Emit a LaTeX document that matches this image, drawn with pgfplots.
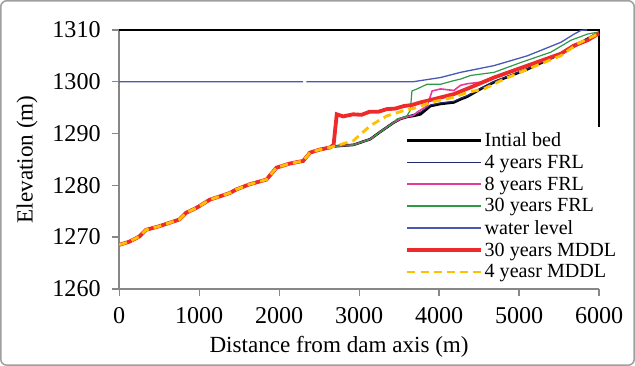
\documentclass[border=0pt]{standalone}
\usepackage{pgfplots}
\pgfplotsset{compat=1.18}
\usepackage{fontspec}
\setmainfont{Liberation Serif}
\usetikzlibrary{calc}
\definecolor{navyc}{HTML}{1F2A6B}
\definecolor{pinkc}{HTML}{E8389A}
\definecolor{greenc}{HTML}{2E9A46}
\definecolor{waterc}{HTML}{4A58B5}
\definecolor{redc}{HTML}{EE2A2A}
\definecolor{orangec}{HTML}{FFC000}
\definecolor{axgray}{HTML}{878787}
\begin{document}
\begin{tikzpicture}
\begin{axis}[name=ax, scale only axis, width=478bp, height=258bp,
  xmin=0, xmax=6000, ymin=1260, ymax=1310,
  xtick={0,1000,...,6000}, ytick={1260,1270,...,1310},
  axis lines*=left, clip=false,
  axis line style={axgray, line width=1.6bp},
  tick style={axgray, line width=1.3bp},
  tick align=outside, major tick length=7bp,
  /pgf/number format/assume math mode=true,
  /pgf/number format/1000 sep={},
  tick label style={font=\fontsize{24bp}{26bp}\selectfont},
  yticklabel style={xshift=-8bp},
  xticklabel style={yshift=-8bp},
  xlabel={Distance from dam axis (m)}, ylabel={Elevation (m)},
  label style={font=\fontsize{23bp}{25bp}\selectfont},
  xlabel style={xshift=-20bp, yshift=-6bp},
  ylabel style={yshift=8bp},
  legend image code/.code={\draw[#1] (0bp,0bp) -- (73bp,0bp);},
  legend style={at={(0.59,0.62)}, anchor=north west, draw=none, fill=none,
    font=\fontsize{20bp}{22bp}\selectfont, row sep=3bp},
  legend cell align=left,
]
\addplot[black, line width=2bp, forget plot] coordinates {(0,1310) (6000,1310) (6000,1291.2)};
% Initial bed
\addplot[black, line width=2.6bp] coordinates {
(0,1268.5) (125,1269.1) (251,1270.1) (335,1271.4) (502,1272.1) (753,1273.4) (837,1274.7) (961,1275.6) (1130,1277.2) (1381,1278.5) (1465,1279.2) (1632,1280.2) (1841,1281.1) (1966,1283.4) (2134,1284.2) (2300,1284.7) (2385,1286.3) (2510,1286.9) (2636,1287.3)
(2677,1287.5) (2928,1287.8) (3138,1288.9) (3263,1290.3) (3431,1292.1) (3514,1292.8) (3598,1293.2) (3682,1293.4) (3766,1293.7) (3891,1295.3) (4017,1295.7) (4184,1296.0) (4268,1296.6) (4351,1297.1) (4519,1298.6) (4686,1299.9) (4937,1301.4) (5104,1302.4) (5313,1303.9) (5522,1305.4) (5731,1307.2) (5941,1309.0) (6000,1309.2)};
\addlegendentry{Intial bed}
% 4 years FRL
\addplot[navyc, line width=1.2bp] coordinates {
(0,1268.5) (125,1269.1) (251,1270.1) (335,1271.4) (502,1272.1) (753,1273.4) (837,1274.7) (961,1275.6) (1130,1277.2) (1381,1278.5) (1465,1279.2) (1632,1280.2) (1841,1281.1) (1966,1283.4) (2134,1284.2) (2300,1284.7) (2385,1286.3) (2510,1286.9) (2636,1287.3)
(2677,1287.5) (2928,1287.8) (3138,1288.9) (3263,1290.3) (3431,1292.1) (3514,1292.8) (3598,1293.3) (3682,1293.7) (3766,1294.1) (3891,1295.5) (4017,1295.9) (4184,1296.2) (4268,1296.8) (4351,1297.3) (4519,1298.7) (4686,1300.0) (4937,1301.5) (5104,1302.5) (5313,1304.0) (5522,1305.5) (5731,1307.3) (5941,1309.0) (6000,1309.2)};
\addlegendentry{4 years FRL}
% 8 years FRL
\addplot[pinkc, line width=1.6bp] coordinates {
(0,1268.5) (125,1269.1) (251,1270.1) (335,1271.4) (502,1272.1) (753,1273.4) (837,1274.7) (961,1275.6) (1130,1277.2) (1381,1278.5) (1465,1279.2) (1632,1280.2) (1841,1281.1) (1966,1283.4) (2134,1284.2) (2300,1284.7) (2385,1286.3) (2510,1286.9) (2636,1287.3)
(2677,1287.5) (2928,1287.8) (3138,1288.9) (3263,1290.3) (3431,1292.1) (3514,1292.8) (3598,1293.2) (3682,1293.5) (3723,1294.1) (3849,1295.3) (3912,1298.2) (4017,1298.6) (4184,1298.3) (4268,1299.3) (4351,1299.6) (4519,1299.9) (4686,1300.9) (5104,1303.1) (5522,1305.4) (5857,1308.0) (6000,1309.3)};
\addlegendentry{8 years FRL}
% 30 years FRL
\addplot[greenc, line width=1.2bp] coordinates {
(0,1268.5) (125,1269.1) (251,1270.1) (335,1271.4) (502,1272.1) (753,1273.4) (837,1274.7) (961,1275.6) (1130,1277.2) (1381,1278.5) (1465,1279.2) (1632,1280.2) (1841,1281.1) (1966,1283.4) (2134,1284.2) (2300,1284.7) (2385,1286.3) (2510,1286.9) (2636,1287.3)
(2677,1287.5) (2928,1287.8) (3138,1288.9) (3263,1290.3) (3431,1292.1) (3472,1292.8) (3598,1293.4) (3640,1294.5) (3660,1298.2) (3723,1298.6) (3849,1299.5) (4017,1299.5) (4184,1300.2) (4268,1300.5) (4393,1301.2) (4686,1301.8) (5021,1303.7) (5397,1305.7) (5648,1308.0) (5857,1309.2) (6000,1309.6)};
\addlegendentry{30 years FRL}
% water level
\addplot[waterc, line width=1.3bp, unbounded coords=jump] coordinates {
(0,1300) (2300,1300) (2320,nan) (2340,1300) (3680,1300) (4017,1300.8) (4268,1301.8) (4686,1303.1) (5104,1305.0) (5522,1307.6) (5689,1309.2) (5773,1309.9) (5850,1310)};
\addlegendentry{water level}
% 30 years MDDL
\addplot[redc, line width=3.8bp] coordinates {
(0,1268.5) (125,1269.1) (251,1270.1) (335,1271.4) (502,1272.1) (753,1273.4) (837,1274.7) (961,1275.6) (1130,1277.2) (1381,1278.5) (1465,1279.2) (1632,1280.2) (1841,1281.1) (1966,1283.4) (2134,1284.2) (2300,1284.7) (2385,1286.3) (2510,1286.9) (2636,1287.3)
(2680,1287.8) (2720,1293.7) (2800,1293.3) (2925,1293.7) (3030,1293.6) (3130,1294.2) (3240,1294.2) (3347,1294.7) (3450,1294.8) (3560,1295.3) (3660,1295.5) (3766,1296.0) (3980,1296.8) (4184,1297.6) (4393,1298.9) (4686,1300.8) (5104,1303.1) (5522,1305.4) (5689,1307.0) (5857,1308.0) (5983,1309.2) (6000,1309.3)};
\addlegendentry{30 years MDDL}
% 4 years MDDL
\addplot[orangec, line width=2.8bp, dash pattern=on 8bp off 5bp] coordinates {
(0,1268.5) (125,1269.1) (251,1270.1) (335,1271.4) (502,1272.1) (753,1273.4) (837,1274.7) (961,1275.6) (1130,1277.2) (1381,1278.5) (1465,1279.2) (1632,1280.2) (1841,1281.1) (1966,1283.4) (2134,1284.2) (2300,1284.7) (2385,1286.3) (2510,1286.9) (2636,1287.3)
(2928,1288.6) (3138,1291.5) (3347,1293.4) (3556,1294.4) (3723,1295.0) (3891,1296.0) (4184,1297.0) (4351,1297.9) (4560,1298.6) (4811,1300.5) (5104,1302.4) (5313,1303.7) (5522,1305.0) (5731,1307.3) (5857,1308.3) (6000,1309.3)};
\addlegendentry{4 yeasr MDDL}
\end{axis}
\draw[axgray!80, line width=1.5bp, rounded corners=6bp] ($(ax.south west)+(-118bp,-76bp)$) rectangle ($(ax.north east)+(35bp,29bp)$);
\end{tikzpicture}
\end{document}
